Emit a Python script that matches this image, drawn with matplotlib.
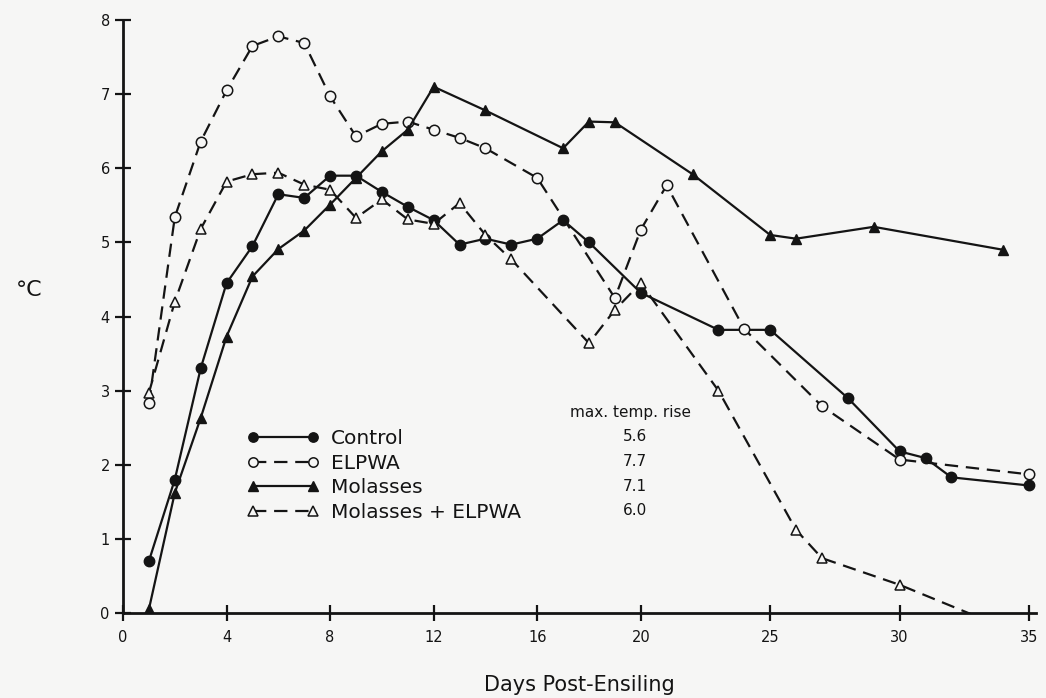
import matplotlib
matplotlib.use('Agg')
import matplotlib.pyplot as plt

# values (deg C rise vs days post-ensiling)
control_days = [1, 2, 3, 4, 5, 6, 7, 8, 9, 10, 11, 12, 13, 14, 15, 16, 17, 18, 20, 23, 25, 28, 30, 31, 32, 35]
control = [0.7, 1.8, 3.3, 4.45, 4.95, 5.65, 5.6, 5.9, 5.9, 5.68, 5.48, 5.3, 4.97, 5.05, 4.97, 5.05, 5.3, 5.0,
           4.32, 3.82, 3.82, 2.9, 2.18, 2.09, 1.83, 1.72]

elpwa_days = [1, 2, 3, 4, 5, 6, 7, 8, 9, 10, 11, 12, 13, 14, 16, 19, 20, 21, 24, 27, 30, 35]
elpwa = [2.83, 5.34, 6.36, 7.05, 7.65, 7.78, 7.69, 6.97, 6.43, 6.6, 6.63, 6.52, 6.41, 6.27, 5.87, 4.25,
         5.17, 5.77, 3.83, 2.79, 2.07, 1.87]

molasses_days = [1, 2, 3, 4, 5, 6, 7, 8, 9, 10, 11, 12, 14, 17, 18, 19, 22, 25, 26, 29, 34]
molasses = [0.05, 1.62, 2.63, 3.73, 4.54, 4.91, 5.16, 5.51, 5.87, 6.23, 6.52, 7.1, 6.78, 6.27, 6.63, 6.62,
            5.92, 5.1, 5.05, 5.21, 4.9]

mol_elpwa_days = [1, 2, 3, 4, 5, 6, 7, 8, 9, 10, 11, 12, 13, 14, 15, 18, 19, 20, 23, 26, 27, 30, 33]
mol_elpwa = [2.97, 4.2, 5.18, 5.82, 5.92, 5.94, 5.78, 5.71, 5.33, 5.58, 5.31, 5.25, 5.53, 5.1, 4.77, 3.64,
             4.09, 4.45, 3.0, 1.12, 0.74, 0.38, -0.05]

labels = ['Control', 'ELPWA', 'Molasses', 'Molasses + ELPWA']
max_rise = ['5.6', '7.7', '7.1', '6.0']
xticks = [0, 4, 8, 12, 16, 20, 25, 30, 35]
yticks = [0, 1, 2, 3, 4, 5, 6, 7, 8]

bg = '#f6f6f5'
ink = '#141414'
plt.rcParams['font.family'] = 'DejaVu Sans'

fig = plt.figure(figsize=(10.46, 6.98), dpi=100, facecolor=bg)
ax = fig.add_axes([0.1176, 0.1218, 0.8724, 0.8495])
ax.set_facecolor(bg)

lw = 1.6
ms = 7.5
dash = (0, (6, 3.5))
ax.plot(control_days, control, color=ink, lw=lw, marker='o', ms=ms, mfc=ink, mec=ink, label=labels[0])
ax.plot(elpwa_days, elpwa, color=ink, lw=lw, ls=dash, marker='o', ms=ms, mfc=bg, mec=ink, mew=1.1,
        label=labels[1])
ax.plot(molasses_days, molasses, color=ink, lw=lw, marker='^', ms=ms, mfc=ink, mec=ink, label=labels[2])
ax.plot(mol_elpwa_days, mol_elpwa, color=ink, lw=lw, ls=dash, marker='^', ms=ms, mfc=bg, mec=ink, mew=1.1,
        markevery=list(range(len(mol_elpwa_days) - 1)), label=labels[3])

ax.set_xlim(0, 35.25)
ax.set_ylim(0, 8)
ax.set_xticks(xticks)
ax.set_yticks(yticks)
for s in ['top', 'right']:
    ax.spines[s].set_visible(False)
for s in ['left', 'bottom']:
    ax.spines[s].set_linewidth(2.0)
    ax.spines[s].set_color(ink)
ax.tick_params(direction='inout', length=11, width=1.6, colors=ink, labelsize=10.5, pad=7)
ax.tick_params(axis='y', pad=4)

ax.set_xlabel('Days Post-Ensiling', fontsize=15, color=ink, labelpad=21)
fig.text(0.028, 0.585, '°C', fontsize=16, color=ink, ha='center', va='center')

leg = ax.legend(loc='upper left', bbox_to_anchor=(0.136, 0.310), frameon=False, fontsize=14.5,
                handlelength=3.55, handletextpad=0.6, labelspacing=0.28, numpoints=2, markerscale=0.9,
                borderaxespad=0, borderpad=0)
for t in leg.get_texts():
    t.set_color(ink)

ax.text(17.25, 2.7, 'max. temp. rise', fontsize=11, color=ink, va='center')
row_y = [2.375, 2.04, 1.70, 1.38]
for v, yy in zip(max_rise, row_y):
    ax.text(19.3, yy, v, fontsize=11, color=ink, va='center')

fig.savefig('out.png', dpi=100, facecolor=bg)
